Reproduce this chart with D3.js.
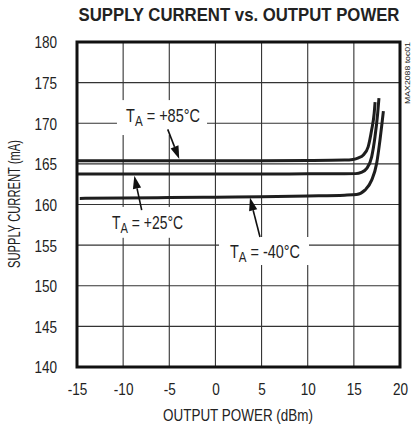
<!DOCTYPE html>
<html>
<head>
<meta charset="utf-8">
<script src="https://cdn.jsdelivr.net/npm/d3@7"></script>
<style>
  html, body { margin: 0; padding: 0; background: #fff; }
  svg { display: block; }
  text { font-family: "Liberation Sans Narrow", "Arial Narrow", "Liberation Sans", Arial, sans-serif; fill: #222; }
</style>
</head>
<body>
<div id="chart"></div>
<script>
// ---- Data ----
const xTicks = [-15, -10, -5, 0, 5, 10, 15, 20];
const yTicks = [140, 145, 150, 155, 160, 165, 170, 175, 180];

const x85 = [-15, -10, -5, 0, 5, 10, 14, 14.9, 15.5, 16.0, 16.55, 16.93, 17.2, 17.3];
const y85 = [165.4, 165.4, 165.4, 165.4, 165.4, 165.42, 165.47, 165.55, 165.75, 166.07, 167.1, 169.2, 171.2, 172.6];

const x25 = [-15, -10, -5, 0, 5, 10, 14, 15.2, 15.8, 16.4, 16.93, 17.29, 17.58, 17.72];
const y25 = [163.75, 163.75, 163.75, 163.75, 163.75, 163.77, 163.78, 163.8, 163.95, 164.45, 165.87, 168.34, 171.2, 173.1];

const xM40 = [-14.7, -10, -5, 0, 5, 10, 14, 15.3, 16.2, 16.93, 17.47, 17.83, 18.05, 18.2];
const yM40 = [160.75, 160.8, 160.85, 160.9, 160.95, 161.05, 161.15, 161.24, 161.77, 163.0, 165.06, 167.93, 170.0, 171.5];

// annotations (data units)
const annLabels = ["+85°C", "+25°C", "-40°C"];
const annTextX = [-5.68, -7.36, 5.37];
const annTextY = [170.15, 157.0, 153.4];
const annFromX = [-5.17, -7.99, 4.83];
const annFromY = [169.25, 159.3, 156.0];
const annTipX = [-3.92, -8.79, 3.74];
const annTipY = [165.6, 163.55, 160.85];
const annBoxX0 = [-10.67, -11.97, 0.39];
const annBoxX1 = [-0.91, -2.76, 10.14];
const annBoxY0 = [172.85, 159.7, 156.0];
const annBoxY1 = [168.55, 155.9, 152.55];

// ---- Layout ----
const W = 412, H = 427;
const L = 77, R = 400, T = 42, B = 367;
const NARROW = 0.82;

const svg = d3.select("#chart").append("svg").attr("width", W).attr("height", H);

function condense(sel, factor) {
  sel.each(function () {
    const w = this.getComputedTextLength();
    d3.select(this).attr("textLength", w * factor).attr("lengthAdjust", "spacingAndGlyphs");
  });
}

const x = d3.scaleLinear().domain([-15, 20]).range([L, R]);
const y = d3.scaleLinear().domain([140, 180]).range([B, T]);

// grid
const grid = svg.append("g");
grid.selectAll("line.v").data(xTicks.slice(1, -1)).join("line")
  .attr("x1", d => x(d)).attr("x2", d => x(d)).attr("y1", T).attr("y2", B)
  .attr("stroke", "#333").attr("stroke-width", 1.1);
grid.selectAll("line.h").data(yTicks.slice(1, -1)).join("line")
  .attr("x1", L).attr("x2", R).attr("y1", d => y(d)).attr("y2", d => y(d))
  .attr("stroke", "#333").attr("stroke-width", 1.1);

// label boxes (white, interrupting gridlines)
svg.append("g").selectAll("rect").data(annLabels).join("rect")
  .attr("x", (d, i) => x(annBoxX0[i]))
  .attr("y", (d, i) => y(annBoxY0[i]))
  .attr("width", (d, i) => x(annBoxX1[i]) - x(annBoxX0[i]))
  .attr("height", (d, i) => y(annBoxY1[i]) - y(annBoxY0[i]))
  .attr("fill", "#fff");

// curves
const line = d3.line().x(d => x(d[0])).y(d => y(d[1])).curve(d3.curveMonotoneX);
const series = [d3.zip(x85, y85), d3.zip(x25, y25), d3.zip(xM40, yM40)];
svg.append("g").selectAll("path").data(series).join("path")
  .attr("d", line).attr("fill", "none").attr("stroke", "#1e1e1e")
  .attr("stroke-width", 3);

// frame
svg.append("rect").attr("x", L).attr("y", T).attr("width", R - L).attr("height", B - T)
  .attr("fill", "none").attr("stroke", "#111").attr("stroke-width", 3);

// axes
const fmt = d => String(d);
const xAxis = d3.axisBottom(x).tickValues(xTicks).tickSize(0).tickPadding(0).tickFormat(fmt);
const gx = svg.append("g").attr("transform", `translate(0,${B})`).call(xAxis);
gx.select(".domain").remove();
gx.selectAll("text").attr("y", 28).attr("dy", 0)
  .style("font-size", "16.5px").attr("fill", "#222")
  .style("font-family", "'Liberation Sans Narrow','Arial Narrow','Liberation Sans',Arial,sans-serif")
  .call(condense, NARROW);

const yAxis = d3.axisLeft(y).tickValues(yTicks).tickSize(0).tickPadding(0).tickFormat(fmt);
const gy = svg.append("g").attr("transform", `translate(${L},0)`).call(yAxis);
gy.select(".domain").remove();
gy.selectAll("text").attr("x", -20).attr("dy", "0.36em")
  .style("font-size", "16.5px").attr("fill", "#222")
  .style("font-family", "'Liberation Sans Narrow','Arial Narrow','Liberation Sans',Arial,sans-serif")
  .call(condense, NARROW);

// scaled-width text helper (horizontal condense via transform)
function narrowText(parent, cx, cy, rot, target, build) {
  const g = parent.append("g");
  const t = g.append("text").attr("text-anchor", "middle");
  build(t);
  const w = t.node().getComputedTextLength();
  const s = target / w;
  g.attr("transform", `translate(${cx},${cy}) rotate(${rot}) scale(${s},1)`);
  return t;
}

// titles
narrowText(svg, 239, 21, 0, 321, t => t.style("font-size", "18px").style("font-weight", "bold")
  .text("SUPPLY CURRENT vs. OUTPUT POWER"));

narrowText(svg, 238, 421, 0, 150, t => t.style("font-size", "16.5px").text("OUTPUT POWER (dBm)"));

narrowText(svg, 20, 204, -90, 128, t => t.style("font-size", "16.5px").text("SUPPLY CURRENT (mA)"));

narrowText(svg, 410, 73, -90, 62, t => t.style("font-size", "7.5px").text("MAX2088 toc01"));

// annotation text
const ann = svg.append("g");
const annW = [74, 71, 70];
annLabels.forEach((lab, i) => {
  narrowText(ann, x(annTextX[i]), y(annTextY[i]), 0, annW[i], t => {
    t.style("font-size", "17.5px");
    t.append("tspan").text("T");
    t.append("tspan").attr("dy", 4).style("font-size", "14px").text("A");
    t.append("tspan").attr("dy", -4).text(" = " + lab);
  });
});

// arrows
annLabels.forEach((lab, i) => {
  const x0 = x(annFromX[i]), y0 = y(annFromY[i]);
  const x1 = x(annTipX[i]), y1 = y(annTipY[i]);
  const ang = Math.atan2(y1 - y0, x1 - x0);
  const len = 13, hw = 4.2;
  const bx = x1 - len * Math.cos(ang), by = y1 - len * Math.sin(ang);
  ann.append("line").attr("x1", x0).attr("y1", y0).attr("x2", bx).attr("y2", by)
    .attr("stroke", "#111").attr("stroke-width", 1.6);
  const p = [
    [x1, y1],
    [bx + hw * Math.sin(ang), by - hw * Math.cos(ang)],
    [bx - hw * Math.sin(ang), by + hw * Math.cos(ang)]
  ];
  ann.append("path").attr("d", "M" + p.map(q => q.join(",")).join("L") + "Z").attr("fill", "#111");
});
</script>
</body>
</html>
